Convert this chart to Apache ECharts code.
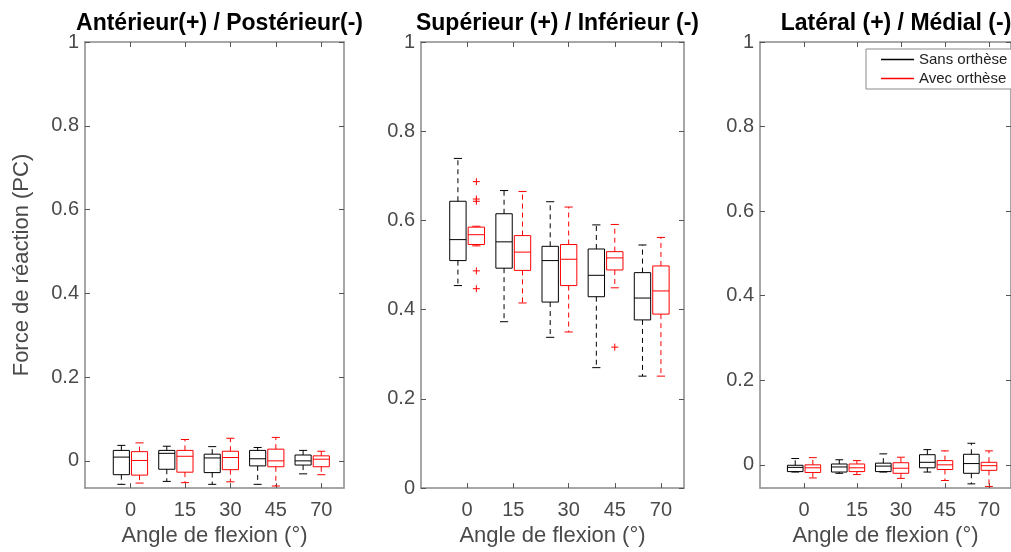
<!DOCTYPE html>
<html>
<head>
<meta charset="utf-8">
<script src="https://cdn.jsdelivr.net/npm/echarts@6/dist/echarts.min.js"></script>
<style>html,body{margin:0;padding:0;background:#fff}#c{width:1011px;height:552px}</style>
</head>
<body>
<div id="c"></div>
<script>
// ---------- data ----------
const angleLabels = ['0', '15', '30', '45', '70'];
const panelTitles = ['Antérieur(+) / Postérieur(-)', 'Supérieur (+) / Inférieur (-)', 'Latéral (+) / Médial (-)'];
const seriesNames = ['Sans orthèse', 'Avec orthèse'];
const yTickValues = [0, 0.2, 0.4, 0.6, 0.8, 1];

// tick positions (on the box-position axis) where the angle labels sit
const tickPosAP = [1.2, 2.4, 3.4, 4.4, 5.4];
const tickPosSI = [1.2, 2.2, 3.4, 4.4, 5.4];
const tickPosLM = [1.2, 2.4, 3.4, 4.4, 5.4];

// box positions
const posSans = [1, 2, 3, 4, 5];
const posAvec = [1.4, 2.4, 3.4, 4.4, 5.4];

// box statistics: [lower whisker, Q1, median, Q3, upper whisker]
const apSans = [
  [-0.056, -0.033, 0.009, 0.025, 0.037],
  [-0.049, -0.020, 0.018, 0.025, 0.035],
  [-0.056, -0.028, 0.007, 0.016, 0.034],
  [-0.056, -0.012, 0.005, 0.025, 0.032],
  [-0.031, -0.010, 0.000, 0.014, 0.025]
];
const apAvec = [
  [-0.053, -0.034, 0.001, 0.022, 0.043],
  [-0.052, -0.027, 0.011, 0.025, 0.051],
  [-0.050, -0.021, 0.008, 0.023, 0.054],
  [-0.060, -0.014, 0.000, 0.028, 0.056],
  [-0.033, -0.014, 0.004, 0.012, 0.023]
];
const siSans = [
  [0.454, 0.510, 0.557, 0.643, 0.739],
  [0.373, 0.493, 0.552, 0.615, 0.667],
  [0.338, 0.417, 0.510, 0.542, 0.642],
  [0.270, 0.429, 0.477, 0.536, 0.590],
  [0.251, 0.377, 0.426, 0.483, 0.545]
];
const siAvec = [
  [0.543, 0.546, 0.568, 0.585, 0.587],
  [0.415, 0.488, 0.529, 0.566, 0.665],
  [0.350, 0.454, 0.513, 0.546, 0.630],
  [0.449, 0.489, 0.516, 0.530, 0.591],
  [0.251, 0.390, 0.442, 0.498, 0.562]
];
const lmSans = [
  [-0.017, -0.016, -0.006, -0.001, 0.015],
  [-0.020, -0.017, -0.005, 0.002, 0.012],
  [-0.017, -0.016, -0.003, 0.004, 0.026],
  [-0.017, -0.007, 0.006, 0.024, 0.036],
  [-0.045, -0.020, 0.003, 0.025, 0.051]
];
const lmAvec = [
  [-0.031, -0.018, -0.007, 0.000, 0.017],
  [-0.023, -0.016, -0.007, 0.002, 0.010],
  [-0.032, -0.020, -0.008, 0.005, 0.018],
  [-0.037, -0.011, 0.000, 0.010, 0.033],
  [-0.051, -0.013, -0.002, 0.006, 0.033]
];

// outliers: [box position, value]
const siAvecOutliers = [[1.4, 0.687], [1.4, 0.648], [1.4, 0.643], [1.4, 0.487], [1.4, 0.447], [4.4, 0.316]];

// ---------- styling / layout ----------
const BOX_W = 0.355;
const COL_SANS = '#000000';
const COL_AVEC = '#ff0000';
const AXIS_COL = '#8a8a8a';
const TXT_COL = '#4a4a4a';
const FONT = 'Liberation Sans, Arial, Helvetica, sans-serif';

const grids = [
  { left: 85, top: 42, width: 259, height: 449 },
  { left: 421, top: 42, width: 263, height: 449 },
  { left: 760, top: 42, width: 262, height: 449 }
];
const yMins = [-0.065, 0, -0.055];
const tickSets = [tickPosAP, tickPosSI, tickPosLM];
const panelData = [[apSans, apAvec], [siSans, siAvec], [lmSans, lmAvec]];

function boxRender(params, api) {
  const x = api.value(0);
  const lo = api.value(1), q1 = api.value(2), med = api.value(3), q3 = api.value(4), hi = api.value(5);
  const color = api.visual('color');
  const w = api.size([BOX_W, 0])[0];
  const cw = w / 2;
  const cx = api.coord([x, med])[0];
  const yLo = api.coord([x, lo])[1], yQ1 = api.coord([x, q1])[1], yMed = api.coord([x, med])[1];
  const yQ3 = api.coord([x, q3])[1], yHi = api.coord([x, hi])[1];
  const solid = { stroke: color, lineWidth: 1, fill: null };
  const dashed = { stroke: color, lineWidth: 1, lineDash: [5, 4], fill: null };
  return {
    type: 'group',
    children: [
      { type: 'line', shape: { x1: cx, y1: yQ3, x2: cx, y2: yHi }, style: dashed },
      { type: 'line', shape: { x1: cx, y1: yQ1, x2: cx, y2: yLo }, style: dashed },
      { type: 'line', shape: { x1: cx - cw / 2, y1: yHi, x2: cx + cw / 2, y2: yHi }, style: solid },
      { type: 'line', shape: { x1: cx - cw / 2, y1: yLo, x2: cx + cw / 2, y2: yLo }, style: solid },
      { type: 'rect', shape: { x: cx - w / 2, y: yQ3, width: w, height: yQ1 - yQ3 }, style: { stroke: color, lineWidth: 1, fill: 'rgba(0,0,0,0)' } },
      { type: 'line', shape: { x1: cx - w / 2, y1: yMed, x2: cx + w / 2, y2: yMed }, style: solid }
    ]
  };
}

function plusRender(params, api) {
  const p = api.coord([api.value(0), api.value(1)]);
  const color = api.visual('color');
  const s = 3.5;
  return {
    type: 'group',
    children: [
      { type: 'line', shape: { x1: p[0] - s, y1: p[1], x2: p[0] + s, y2: p[1] }, style: { stroke: color, lineWidth: 1 } },
      { type: 'line', shape: { x1: p[0], y1: p[1] - s, x2: p[0], y2: p[1] + s }, style: { stroke: color, lineWidth: 1 } }
    ]
  };
}

const xAxes = [], yAxes = [], series = [], titles = [];
grids.forEach((g, i) => {
  const ticks = tickSets[i];
  // bottom x axis
  xAxes.push({
    type: 'value', gridIndex: i, min: 0.2, max: 5.9, position: 'bottom',
    name: 'Angle de flexion (°)', nameLocation: 'middle', nameGap: 35,
    nameTextStyle: { fontFamily: FONT, fontSize: 22, color: TXT_COL },
    axisLine: { show: true, onZero: false, lineStyle: { color: AXIS_COL, width: 1.5 } },
    axisTick: { show: true, inside: true, length: 5, customValues: ticks, lineStyle: { color: '#555' } },
    axisLabel: { show: true, customValues: ticks, margin: 12, fontFamily: FONT, fontSize: 20, color: TXT_COL,
      formatter: v => { const k = ticks.findIndex(t => Math.abs(t - v) < 1e-6); return k >= 0 ? angleLabels[k] : ''; } },
    splitLine: { show: false }
  });
  // top x axis (box frame)
  xAxes.push({
    type: 'value', gridIndex: i, min: 0.2, max: 5.9, position: 'top',
    axisLine: { show: true, onZero: false, lineStyle: { color: AXIS_COL, width: 1.5 } },
    axisTick: { show: true, inside: true, length: 5, customValues: ticks, lineStyle: { color: '#555' } },
    axisLabel: { show: false }, splitLine: { show: false }
  });
  yAxes.push({
    type: 'value', gridIndex: i, min: yMins[i], max: 1, position: 'left',
    name: i === 0 ? 'Force de réaction (PC)' : '', nameLocation: 'middle', nameGap: 52,
    nameTextStyle: { fontFamily: FONT, fontSize: 22, color: TXT_COL },
    axisLine: { show: true, onZero: false, lineStyle: { color: AXIS_COL, width: 1.5 } },
    axisTick: { show: true, inside: true, length: 5, customValues: yTickValues, lineStyle: { color: '#555' } },
    axisLabel: { show: true, customValues: yTickValues, margin: 6, fontFamily: FONT, fontSize: 20, color: TXT_COL },
    splitLine: { show: false }
  });
  yAxes.push({
    type: 'value', gridIndex: i, min: yMins[i], max: 1, position: 'right',
    axisLine: { show: true, onZero: false, lineStyle: { color: AXIS_COL, width: 1.5 } },
    axisTick: { show: true, inside: true, length: 5, customValues: yTickValues, lineStyle: { color: '#555' } },
    axisLabel: { show: false }, splitLine: { show: false }
  });
  const [sans, avec] = panelData[i];
  series.push({
    type: 'custom', name: seriesNames[0], xAxisIndex: 2 * i, yAxisIndex: 2 * i,
    itemStyle: { color: COL_SANS }, renderItem: boxRender, clip: true,
    data: sans.map((s, k) => [posSans[k], ...s])
  });
  series.push({
    type: 'custom', name: seriesNames[1], xAxisIndex: 2 * i, yAxisIndex: 2 * i,
    itemStyle: { color: COL_AVEC }, renderItem: boxRender, clip: true,
    data: avec.map((s, k) => [posAvec[k], ...s])
  });
  titles.push({
    text: panelTitles[i], left: g.left + g.width / 2, top: 7, textAlign: 'center',
    textStyle: { fontFamily: FONT, fontSize: 23, fontWeight: 'bold', color: '#000' }
  });
});
series.push({
  type: 'custom', name: seriesNames[1], xAxisIndex: 2, yAxisIndex: 2,
  itemStyle: { color: COL_AVEC }, renderItem: plusRender, clip: true,
  data: siAvecOutliers
});

const chart = echarts.init(document.getElementById('c'), null, { renderer: 'canvas' });
chart.setOption({
  animation: false,
  backgroundColor: '#fff',
  title: titles,
  grid: grids,
  xAxis: xAxes,
  yAxis: yAxes,
  legend: {
    left: 866, top: 49, orient: 'vertical',
    backgroundColor: '#fff', borderColor: '#8a8a8a', borderWidth: 1, borderRadius: 0,
    padding: [3, 40, 3, 15], itemGap: 4, itemWidth: 33, itemHeight: 1.5,
    textStyle: { fontFamily: FONT, fontSize: 15, color: '#222' },
    data: [
      { name: seriesNames[0], icon: 'rect', itemStyle: { color: COL_SANS } },
      { name: seriesNames[1], icon: 'rect', itemStyle: { color: COL_AVEC } }
    ]
  },
  series: series
});
</script>
</body>
</html>
